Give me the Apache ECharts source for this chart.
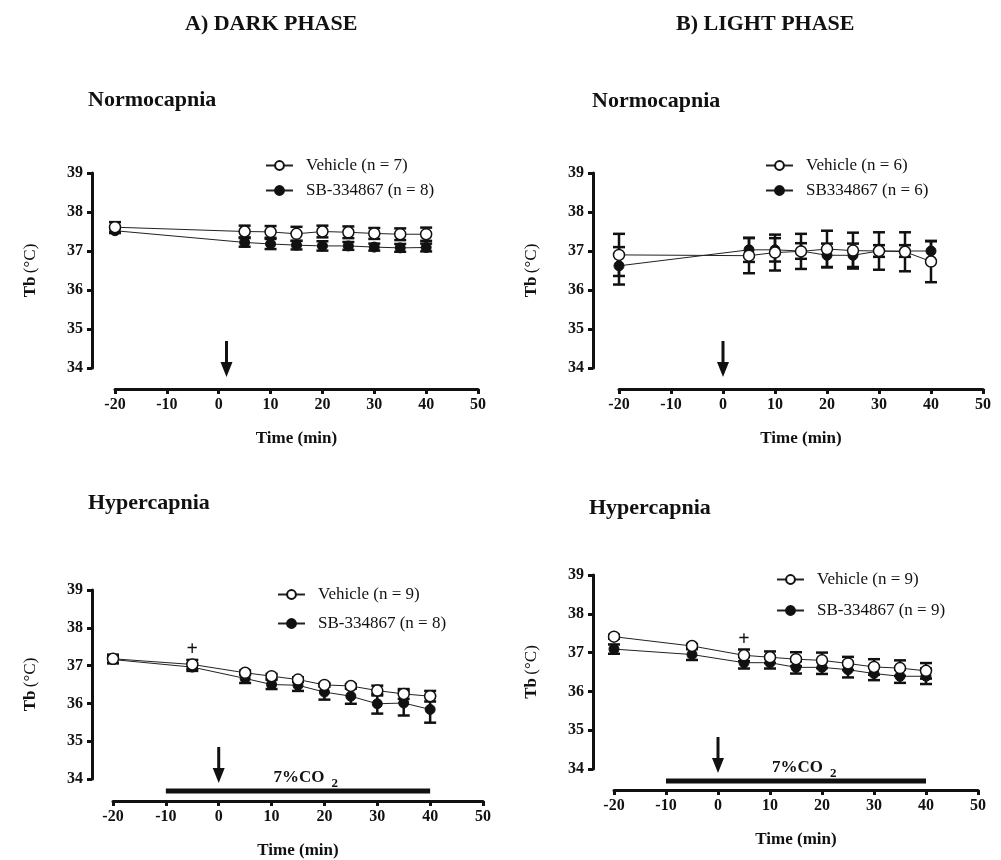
<!DOCTYPE html>
<html>
<head>
<meta charset="utf-8">
<script src="https://cdn.jsdelivr.net/npm/echarts@6/dist/echarts.min.js"></script>
<style>
  html, body { margin: 0; padding: 0; background: #fff; }
  #main { width: 1001px; height: 860px; }
</style>
</head>
<body>
<div id="main"></div>
<script>
// time points (min)
var timesNormo = [-20, 5, 10, 15, 20, 25, 30, 35, 40];
var timesHyper = [-20, -5, 5, 10, 15, 20, 25, 30, 35, 40];

// A) dark phase, normocapnia
var darkNormoVeh = [37.61, 37.50, 37.49, 37.44, 37.50, 37.48, 37.45, 37.43, 37.43];
var darkNormoVehSem = [0.13, 0.15, 0.15, 0.18, 0.15, 0.15, 0.14, 0.15, 0.17];
var darkNormoSb = [37.52, 37.22, 37.18, 37.15, 37.13, 37.13, 37.10, 37.08, 37.09];
var darkNormoSbSem = [0.06, 0.11, 0.13, 0.11, 0.12, 0.10, 0.09, 0.10, 0.10];

// B) light phase, normocapnia
var lightNormoVeh = [36.90, 36.88, 36.96, 36.99, 37.05, 37.01, 37.00, 36.98, 36.73];
var lightNormoVehSem = [0.54, 0.45, 0.46, 0.45, 0.47, 0.46, 0.48, 0.50, 0.53];
var lightNormoSb = [36.62, 37.03, 37.03, 37.00, 36.89, 36.89, 37.00, 37.00, 37.00];
var lightNormoSbSem = [0.48, 0.31, 0.30, 0.20, 0.30, 0.30, 0.15, 0.15, 0.25];

// A) dark phase, hypercapnia
var darkHyperVeh = [37.18, 37.03, 36.81, 36.72, 36.63, 36.49, 36.46, 36.34, 36.25, 36.19];
var darkHyperVehSem = [0.11, 0.12, 0.06, 0.06, 0.06, 0.05, 0.05, 0.13, 0.13, 0.14];
var darkHyperSb = [37.16, 36.96, 36.66, 36.50, 36.48, 36.30, 36.19, 35.99, 36.01, 35.84];
var darkHyperSbSem = [0.10, 0.10, 0.12, 0.12, 0.15, 0.20, 0.20, 0.26, 0.33, 0.35];

// B) light phase, hypercapnia
var lightHyperVeh = [37.41, 37.17, 36.93, 36.88, 36.83, 36.80, 36.72, 36.63, 36.60, 36.53];
var lightHyperVehSem = [0.05, 0.05, 0.15, 0.15, 0.18, 0.20, 0.17, 0.20, 0.20, 0.20];
var lightHyperSb = [37.09, 36.95, 36.74, 36.74, 36.62, 36.62, 36.56, 36.46, 36.39, 36.39];
var lightHyperSbSem = [0.12, 0.14, 0.15, 0.15, 0.16, 0.17, 0.20, 0.17, 0.17, 0.20];

// injection arrow time, CO2 exposure window, "+" marks [time, value]
var arrowTimes = [1.5, 0, 0, 0];
var co2Span = [-10, 40];
var plusDark = [-5, 37.43];
var plusLight = [5, 37.32];

var FONT = '"Liberation Serif", "Times New Roman", serif';

var panels = [
  { times: timesNormo, veh: darkNormoVeh, vehSem: darkNormoVehSem, sb: darkNormoSb, sbSem: darkNormoSbSem,
    vehName: 'Vehicle (n = 7)', sbName: 'SB-334867 (n = 8)',
    grid: { left: 115, top: 173, width: 363, height: 195 }, yOff: 23, xOff: 21,
    legend: { left: 260, top: 152, itemGap: 8 }, arrowTip: 9, co2: false, plus: null },
  { times: timesNormo, veh: lightNormoVeh, vehSem: lightNormoVehSem, sb: lightNormoSb, sbSem: lightNormoSbSem,
    vehName: 'Vehicle (n = 6)', sbName: 'SB334867 (n = 6)',
    grid: { left: 619, top: 173, width: 364, height: 195 }, yOff: 26, xOff: 21,
    legend: { left: 760, top: 152, itemGap: 8 }, arrowTip: 9, co2: false, plus: null },
  { times: timesHyper, veh: darkHyperVeh, vehSem: darkHyperVehSem, sb: darkHyperSb, sbSem: darkHyperSbSem,
    vehName: 'Vehicle (n = 9)', sbName: 'SB-334867 (n = 8)',
    grid: { left: 113, top: 590, width: 370, height: 191 }, yOff: 21, xOff: 22,
    legend: { left: 272, top: 581, itemGap: 12 }, arrowTip: 4, co2: true, plus: plusDark },
  { times: timesHyper, veh: lightHyperVeh, vehSem: lightHyperVehSem, sb: lightHyperSb, sbSem: lightHyperSbSem,
    vehName: 'Vehicle (n = 9)', sbName: 'SB-334867 (n = 9)',
    grid: { left: 614, top: 575, width: 364, height: 194 }, yOff: 21, xOff: 21,
    legend: { left: 771, top: 566, itemGap: 14 }, arrowTip: 4, co2: true, plus: plusLight }
];

function errorBarItem(params, api) {
  var x = api.value(0), m = api.value(1), s = api.value(2);
  var hi = api.coord([x, m + s]);
  var lo = api.coord([x, m - s]);
  var half = 6;
  var st = { stroke: '#111', lineWidth: 2.5 };
  return {
    type: 'group',
    children: [
      { type: 'line', shape: { x1: hi[0], y1: hi[1], x2: lo[0], y2: lo[1] }, style: st },
      { type: 'line', shape: { x1: hi[0] - half, y1: hi[1], x2: hi[0] + half, y2: hi[1] }, style: st },
      { type: 'line', shape: { x1: lo[0] - half, y1: lo[1], x2: lo[0] + half, y2: lo[1] }, style: st }
    ]
  };
}

function arrowRenderer(tipOff) {
  return function (params, api) {
    var p = api.coord([api.value(0), 34]);
    var tip = p[1] + tipOff;
    var top = tip - 36;
    return {
      type: 'group',
      children: [
        { type: 'line', shape: { x1: p[0], y1: top, x2: p[0], y2: tip - 12 }, style: { stroke: '#111', lineWidth: 3 } },
        { type: 'polygon', shape: { points: [[p[0] - 6, tip - 15], [p[0] + 6, tip - 15], [p[0], tip]] }, style: { fill: '#111' } }
      ]
    };
  };
}

function co2Item(params, api) {
  var a = api.coord([api.value(0), 34]);
  var b = api.coord([api.value(1), 34]);
  var y = a[1] + 12;
  var tx = api.coord([10, 34])[0] + 2;
  return {
    type: 'group',
    children: [
      { type: 'rect', shape: { x: a[0], y: y - 2.5, width: b[0] - a[0], height: 5 }, style: { fill: '#111' } },
      { type: 'text', style: { text: '7%CO', x: tx, y: y - 5, fill: '#111', font: 'bold 17px ' + FONT, textAlign: 'left', textVerticalAlign: 'bottom' } },
      { type: 'text', style: { text: '2', x: tx + 58, y: y - 1, fill: '#111', font: 'bold 13px ' + FONT, textAlign: 'left', textVerticalAlign: 'bottom' } }
    ]
  };
}

function plusItem(params, api) {
  var p = api.coord([api.value(0), api.value(1)]);
  return { type: 'text', style: { text: '+', x: p[0], y: p[1], fill: '#111', font: 'bold 20px ' + FONT, textAlign: 'center', textVerticalAlign: 'middle' } };
}

var grids = [], xAxes = [], yAxes = [], legends = [], series = [];

panels.forEach(function (pn, i) {
  grids.push(pn.grid);
  xAxes.push({
    type: 'value', gridIndex: i, min: -20, max: 50, interval: 10, offset: pn.xOff,
    name: 'Time (min)', nameLocation: 'middle', nameGap: 41,
    nameTextStyle: { fontFamily: FONT, fontWeight: 'bold', fontSize: 17, color: '#111' },
    axisLine: { onZero: false, lineStyle: { color: '#111', width: 3 } },
    axisTick: { length: 5, lineStyle: { color: '#111', width: 3 } },
    axisLabel: { fontFamily: FONT, fontWeight: 'bold', fontSize: 16, color: '#111', margin: 8 },
    splitLine: { show: false }
  });
  yAxes.push({
    type: 'value', gridIndex: i, min: 34, max: 39, interval: 1, offset: pn.yOff,
    name: '{b|Tb} {r|(°C)}', nameLocation: 'middle', nameGap: 53,
    nameTextStyle: { rich: {
      b: { fontFamily: FONT, fontWeight: 'bold', fontSize: 17, color: '#111' },
      r: { fontFamily: FONT, fontSize: 17, color: '#111' }
    } },
    axisLine: { show: true, onZero: false, lineStyle: { color: '#111', width: 3 } },
    axisTick: { show: true, length: 5, lineStyle: { color: '#111', width: 3 } },
    axisLabel: { fontFamily: FONT, fontWeight: 'bold', fontSize: 16, color: '#111', margin: 9 },
    splitLine: { show: false }
  });
  legends.push({
    data: [pn.vehName, pn.sbName], orient: 'vertical',
    left: pn.legend.left, top: pn.legend.top, itemGap: pn.legend.itemGap,
    itemWidth: 27, itemHeight: 11, selectedMode: false,
    textStyle: { fontFamily: FONT, fontSize: 17, color: '#111', padding: [0, 0, 0, 8] }
  });

  var vehData = pn.times.map(function (t, k) { return [t, pn.veh[k]]; });
  var sbData = pn.times.map(function (t, k) { return [t, pn.sb[k]]; });
  var vehErr = pn.times.map(function (t, k) { return [t, pn.veh[k], pn.vehSem[k]]; });
  var sbErr = pn.times.map(function (t, k) { return [t, pn.sb[k], pn.sbSem[k]]; });

  series.push({ type: 'custom', xAxisIndex: i, yAxisIndex: i, z: 1, renderItem: errorBarItem, data: sbErr, silent: true });
  series.push({ type: 'custom', xAxisIndex: i, yAxisIndex: i, z: 1, renderItem: errorBarItem, data: vehErr, silent: true });
  series.push({
    name: pn.sbName, type: 'line', xAxisIndex: i, yAxisIndex: i, z: 3, data: sbData,
    symbol: 'circle', symbolSize: 10, showAllSymbol: true,
    lineStyle: { color: '#222', width: 1 },
    itemStyle: { color: '#111', borderColor: '#111', borderWidth: 1 }
  });
  series.push({
    name: pn.vehName, type: 'line', xAxisIndex: i, yAxisIndex: i, z: 4, data: vehData,
    symbol: 'circle', symbolSize: 11, showAllSymbol: true,
    lineStyle: { color: '#222', width: 1 },
    itemStyle: { color: '#fff', borderColor: '#111', borderWidth: 1.5 }
  });
  series.push({ type: 'custom', xAxisIndex: i, yAxisIndex: i, z: 5, clip: false, silent: true,
    renderItem: arrowRenderer(pn.arrowTip), data: [[arrowTimes[i]]] });
  if (pn.co2) {
    series.push({ type: 'custom', xAxisIndex: i, yAxisIndex: i, z: 5, clip: false, silent: true,
      renderItem: co2Item, data: [co2Span] });
  }
  if (pn.plus) {
    series.push({ type: 'custom', xAxisIndex: i, yAxisIndex: i, z: 5, clip: false, silent: true,
      renderItem: plusItem, data: [pn.plus] });
  }
});

var headStyle = { fontFamily: FONT, fontWeight: 'bold', fontSize: 22, color: '#111' };

var chart = echarts.init(document.getElementById('main'));
chart.setOption({
  backgroundColor: '#fff',
  animation: false,
  title: [
    { text: 'A) DARK PHASE', left: 180, top: 8, textStyle: headStyle },
    { text: 'B) LIGHT PHASE', left: 671, top: 8, textStyle: headStyle },
    { text: 'Normocapnia', left: 83, top: 84, textStyle: headStyle },
    { text: 'Normocapnia', left: 587, top: 85, textStyle: headStyle },
    { text: 'Hypercapnia', left: 83, top: 487, textStyle: headStyle },
    { text: 'Hypercapnia', left: 584, top: 492, textStyle: headStyle }
  ],
  grid: grids,
  xAxis: xAxes,
  yAxis: yAxes,
  legend: legends,
  series: series
});
</script>
</body>
</html>
